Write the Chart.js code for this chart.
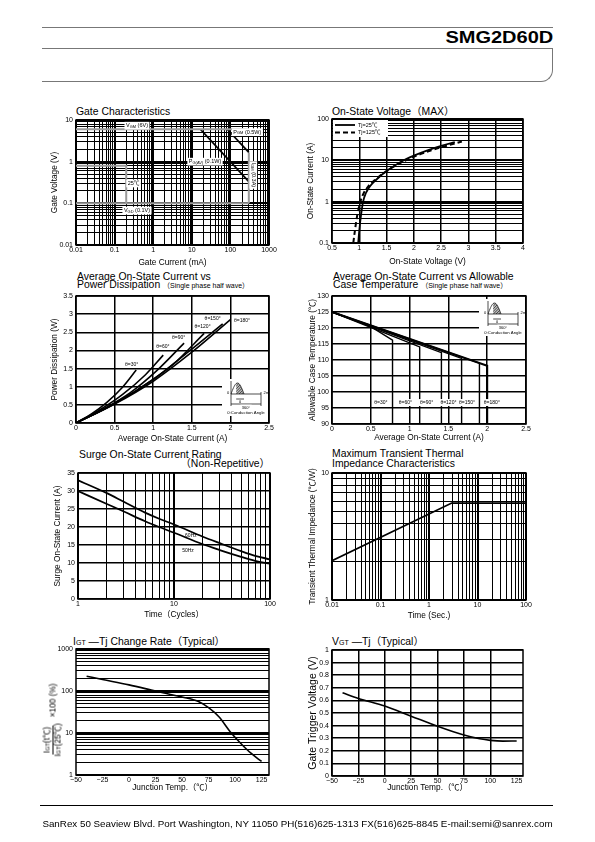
<!DOCTYPE html>
<html>
<head>
<meta charset="utf-8">
<title>SMG2D60D</title>
<script src="https://cdn.jsdelivr.net/npm/chart.js@4/dist/chart.umd.min.js"></script>
<style>
  body { margin: 0; background: #fff; }
  #page { position: relative; width: 595px; height: 842px; overflow: hidden;
          font-family: "Liberation Sans", Arial, "Noto Sans CJK JP", sans-serif; color: #000; }
  #page canvas { position: absolute; }
  .ln { position: absolute; height: 1px; background: #777; }
  .hd { position: absolute; font-size: 10.4px; line-height: 10px; white-space: nowrap; }
  .hd small { font-size: 7px; }
  .sb { font-size: 0.68em; }
</style>
</head>
<body>
<div id="page">
  <!-- header -->
  <div class="ln" style="left:42px;top:27px;width:511px"></div>
  <div style="position:absolute;right:42px;top:30px;font-size:16px;line-height:16px;font-weight:bold;transform:scaleX(1.25);transform-origin:right center;">SMG2D60D</div>
  <div class="ln" style="left:42px;top:48px;width:511px"></div>
  <div style="position:absolute;left:42px;top:48px;width:510px;height:33px;border-right:1px solid #777;border-bottom:1px solid #777;border-bottom-right-radius:12px;"></div>

  <!-- chart headings -->
  <div class="hd" style="left:76px;top:107px">Gate Characteristics</div>
  <div class="hd" style="left:332px;top:107px">On-State Voltage（MAX）</div>
  <div class="hd" style="left:77px;top:272px">Average On-State Current vs</div>
  <div class="hd" style="left:77px;top:280px">Power Dissipation <small>（Single phase half wave）</small></div>
  <div class="hd" style="left:333px;top:272px">Average On-State Current vs Allowable</div>
  <div class="hd" style="left:333px;top:280px">Case Temperature <small>（Single phase half wave）</small></div>
  <div class="hd" style="left:79px;top:450px">Surge On-State Current Rating</div>
  <div class="hd" style="right:325px;top:459px">（Non-Repetitive）</div>
  <div class="hd" style="left:332px;top:449px">Maximum Transient Thermal</div>
  <div class="hd" style="left:332px;top:459px">Impedance Characteristics</div>
  <div class="hd" style="left:73px;top:637px">I<span class="sb">GT</span> —Tj Change Rate（Typical）</div>
  <div class="hd" style="left:332px;top:637px">V<span class="sb">GT</span> —Tj（Typical）</div>

  <canvas id="cGate"></canvas>
  <canvas id="cOnState"></canvas>
  <canvas id="cPower"></canvas>
  <canvas id="cCase"></canvas>
  <canvas id="cSurge"></canvas>
  <canvas id="cTherm"></canvas>
  <canvas id="cIgt"></canvas>
  <canvas id="cVgt"></canvas>

  <!-- fraction title of the IGT chart -->
  <div style="position:absolute;left:53px;top:720px;transform:translate(-50%,-50%) rotate(-90deg);white-space:nowrap;font-size:8.3px;line-height:9px;display:flex;align-items:center;">
    <span style="display:inline-flex;flex-direction:column;align-items:center;">
      <span style="border-bottom:1px solid #000;padding:0 1px">I<span class="sb">GT</span>(t℃)</span>
      <span>I<span class="sb">GT</span>(25℃)</span>
    </span>
    <span style="margin-left:6px">×100 (%)</span>
  </div>

  <!-- footer -->
  <div style="position:absolute;left:40px;top:805px;width:513px;height:1px;background:#000"></div>
  <div style="position:absolute;left:0;width:595px;top:818px;text-align:center;font-size:9.8px;white-space:nowrap;">SanRex 50 Seaview Blvd. Port Washington, NY 11050 PH(516)625-1313 FX(516)625-8845 E-mail:semi@sanrex.com</div>
</div>

<script>
// ---------- data ----------
// Gate characteristics (gate current mA, gate voltage V)
const gateXTicks = [0.01, 0.1, 1, 10, 100, 1000];
const gateXLabels = ['0.01', '0.1', '1', '10', '100', '1000'];
const gateYTicks = [0.01, 0.1, 1, 10];
const gateYLabels = ['0.01', '0.1', '1', '10'];
const vgmI = [0.01, 300],      vgmV = [6, 6];
const vgdI = [0.01, 300],      vgdV = [0.1, 0.1];
const igmI = [300, 300],       igmV = [1.67, 0.1];
const vgtBoxI = [0.01, 0.2, 0.2], vgtBoxV = [0.8, 0.8, 0.1];
const pgmI = [83, 300],        pgmV = [6, 1.67];
const pgavI = [16.7, 300],     pgavV = [6, 0.333];

// On-state voltage (V) vs current (A)
const onXTicks = [0.5, 1, 1.5, 2, 2.5, 3, 3.5, 4];
const onXLabels = ['0.5', '1', '1.5', '2', '2.5', '3', '3.5', '4'];
const onYTicks = [0.1, 1, 10, 100];
const onYLabels = ['0.1', '1', '10', '100'];
const on25V  = [0.98, 1.0, 1.03, 1.07, 1.12, 1.2, 1.3, 1.5, 1.75, 2.0, 2.25, 2.5, 2.75];
const on25I  = [0.1, 0.2, 0.45, 1.0, 1.6, 2.4, 3.3, 5.5, 9, 13, 17.5, 22.5, 27.5];
const on125V = [0.89, 0.92, 0.96, 1.02, 1.08, 1.17, 1.28, 1.5, 1.78, 2.05, 2.32, 2.6, 2.88];
const on125I = [0.1, 0.2, 0.45, 1.0, 1.6, 2.4, 3.3, 5.5, 9, 13, 17.5, 22.5, 28.5];

// Power dissipation (A, W)
const pwXTicks = [0, 0.5, 1, 1.5, 2, 2.5];
const pwXLabels = ['0', '0.5', '1', '1.5', '2', '2.5'];
const pwYTicks = [0, 0.5, 1, 1.5, 2, 2.5, 3, 3.5];
const pwYLabels = ['0', '0.5', '1', '1.5', '2', '2.5', '3', '3.5'];
const pd30I  = [0, 0.2, 0.4, 0.6, 0.78],  pd30P  = [0, 0.25, 0.57, 0.98, 1.46];
const pd60I  = [0, 0.3, 0.6, 0.9, 1.13],  pd60P  = [0, 0.35, 0.78, 1.33, 1.87];
const pd90I  = [0, 0.35, 0.7, 1.05, 1.4], pd90P  = [0, 0.38, 0.83, 1.45, 2.2];
const pd120I = [0, 0.4, 0.8, 1.25, 1.66], pd120P = [0, 0.42, 0.92, 1.6, 2.47];
const pd150I = [0, 0.5, 1.0, 1.45, 1.9],  pd150P = [0, 0.53, 1.2, 1.95, 2.73];
const pd180I = [0, 0.5, 1.0, 1.5, 2.0],   pd180P = [0, 0.52, 1.15, 1.95, 2.85];

// Allowable case temperature (A, degC)
const caseYTicks = [90, 95, 100, 105, 110, 115, 120, 125, 130];
const caseYLabels = ['90', '95', '100', '105', '110', '115', '120', '125', '130'];
const case30I  = [0, 0.5, 0.78, 0.78], case30T  = [125, 120.4, 116.2, 90];
const case60I  = [0, 1.13, 1.13],      case60T  = [125, 114.1, 90];
const case90I  = [0, 1.41, 1.41],      case90T  = [125, 112.3, 90];
const case120I = [0, 1.67, 1.67],      case120T = [125, 110.5, 90];
const case150I = [0, 1.9, 1.9],        case150T = [125, 109.0, 90];
const case180I = [0, 2.0, 2.0],        case180T = [125, 108.2, 90];
const angleLabels = ['θ=30°', 'θ=60°', 'θ=90°', 'θ=120°', 'θ=150°', 'θ=180°'];

// Surge current (cycles, A)
const surgeXTicks = [1, 10, 100];
const surgeXLabels = ['1', '10', '100'];
const surgeYTicks = [0, 5, 10, 15, 20, 25, 30, 35];
const surgeYLabels = ['0', '5', '10', '15', '20', '25', '30', '35'];
const surgeCycles = [1, 2, 3, 5, 7, 10, 20, 30, 50, 70, 100];
const surge60 = [33.0, 29.4, 27.0, 24.0, 22.3, 20.7, 17.3, 15.5, 13.3, 12.0, 11.0];
const surge50 = [30.0, 26.4, 24.3, 21.6, 20.0, 18.4, 15.2, 13.6, 11.7, 10.6, 9.8];

// Transient thermal impedance (s, degC/W)
const thXTicks = [0.01, 0.1, 1, 10, 100];
const thXLabels = ['0.01', '0.1', '1', '10', '100'];
const thYTicks = [1, 10];
const thYLabels = ['1', '10'];
const thTime = [0.01, 2.94, 100];
const thZ = [2.04, 5.8, 5.8];

// IGT change rate (degC, %)
const tjTicks = [-50, -25, 0, 25, 50, 75, 100, 125];
const tjLabels = ['−50', '−25', '0', '25', '50', '75', '100', '125'];
const igtYTicks = [1, 10, 100, 1000];
const igtYLabels = ['1', '10', '100', '1000'];
const igtTj = [-40, -25, 0, 25, 50, 65, 75, 85, 95, 105, 115, 125];
const igtRate = [225, 188, 140, 100, 72, 57, 40, 24, 11, 5.8, 3.3, 2.1];

// VGT vs Tj (degC, V)
const vgtYTicks = [0, 0.1, 0.2, 0.3, 0.4, 0.5, 0.6, 0.7, 0.8, 0.9, 1];
const vgtYLabels = ['0', '0.1', '0.2', '0.3', '0.4', '0.5', '0.6', '0.7', '0.8', '0.9', '1'];
const vgtTj = [-40, -25, 0, 25, 50, 75, 90, 100, 112, 125];
const vgtVolt = [0.66, 0.615, 0.555, 0.475, 0.395, 0.325, 0.295, 0.283, 0.277, 0.278];

// ---------- helpers ----------
const FONT = '"Liberation Sans", Arial, "Noto Sans CJK JP", sans-serif';
const BOX_L = 60, BOX_T = 8, BOX_R = 16, BOX_B = 36;

Chart.defaults.font.family = FONT;
Chart.defaults.color = '#000';
Chart.defaults.animation = false;
Chart.defaults.plugins.legend.display = false;
Chart.defaults.plugins.tooltip.enabled = false;
Chart.defaults.elements.point.radius = 0;

function pts(xs, ys) { return xs.map((x, i) => ({x: x, y: ys[i]})); }
function logGrid(decades) {
  const out = [];
  for (let i = 0; i < decades.length - 1; i++)
    for (let d = 1; d <= 9; d++) out.push(+(decades[i] * d).toPrecision(6));
  out.push(decades[decades.length - 1]);
  return out;
}
function near(a, b) { return Math.abs(a - b) <= 1e-6 * Math.max(1e-9, Math.abs(b)); }

function setupCanvas(id, area) {
  const c = document.getElementById(id);
  const w = area[2] - area[0] + BOX_L + BOX_R;
  const h = area[3] - area[1] + BOX_T + BOX_B;
  c.width = w; c.height = h;
  c.style.left = (area[0] - BOX_L) + 'px';
  c.style.top = (area[1] - BOX_T) + 'px';
  c.style.width = w + 'px';
  c.style.height = h + 'px';
  return c;
}

// titleAt: centre of the axis title in page pixels (x for y axes, y for x axes)
function buildScale(axis, s, area) {
  const isX = axis === 'x';
  const size = s.titleSize || 8.3, lh = size * 1.2;
  const pad = isX ? {top: 0, bottom: area[3] + BOX_B - (s.titleAt + 2) - lh / 2}
                  : {top: s.titleAt - (area[0] - BOX_L) - lh / 2, bottom: 0};
  return {
    type: s.type, min: s.min, max: s.max, position: isX ? 'bottom' : 'left',
    afterBuildTicks: sc => { sc.ticks = s.grid.map(v => ({value: v})); },
    afterFit: sc => {
      if (isX) { sc.height = BOX_B; sc.paddingLeft = 0; sc.paddingRight = 0; }
      else { sc.width = BOX_L; sc.paddingTop = 0; sc.paddingBottom = 0; }
    },
    ticks: {
      autoSkip: false, maxRotation: 0, minRotation: 0, padding: isX ? 1 : 3,
      font: {size: 7}, color: '#000',
      callback: v => { const i = s.labelVals.findIndex(t => near(v, t)); return i < 0 ? '' : s.labelText[i]; }
    },
    grid: {
      display: s.showGrid !== false, drawTicks: false,
      color: c => (c.tick && (s.noGrid || []).some(t => near(c.tick.value, t))) ? 'rgba(0,0,0,0)' : '#000',
      lineWidth: c => {
        if (!c.tick) return 1;
        if (s.major) return s.major.some(t => near(c.tick.value, t)) ? 2 : 1;
        return 1.5;
      }
    },
    border: {display: false},
    title: s.title ? {display: true, text: s.title, font: {size: size}, color: '#000', padding: pad} : {display: false}
  };
}

const framePlugin = {
  id: 'frame',
  beforeDatasetsDraw(chart) {
    const {ctx, chartArea: a} = chart;
    ctx.save();
    ctx.strokeStyle = '#000'; ctx.lineWidth = 1.5;
    ctx.strokeRect(a.left, a.top, a.right - a.left, a.bottom - a.top);
    ctx.restore();
  }
};
Chart.register(framePlugin);

// text with simple _{sub} markup
function drawRich(ctx, text, x, y, size, rot, box) {
  const parts = []; const re = /_\{([^}]*)\}/g; let last = 0, m;
  while ((m = re.exec(text))) {
    if (m.index > last) parts.push({t: text.slice(last, m.index)});
    parts.push({t: m[1], sub: true}); last = re.lastIndex;
  }
  if (last < text.length) parts.push({t: text.slice(last)});
  ctx.save(); ctx.translate(x, y); ctx.rotate(rot || 0);
  let w = 0;
  parts.forEach(p => { ctx.font = (p.sub ? size * 0.72 : size) + 'px ' + FONT; p.w = ctx.measureText(p.t).width; w += p.w; });
  if (box) { ctx.fillStyle = '#fff'; ctx.fillRect(-w / 2 - 1.5, -size * 0.7, w + 3, size * 1.4); }
  ctx.fillStyle = '#000'; ctx.textBaseline = 'middle'; ctx.textAlign = 'left';
  let cx = -w / 2;
  parts.forEach(p => { ctx.font = (p.sub ? size * 0.72 : size) + 'px ' + FONT; ctx.fillText(p.t, cx, p.sub ? size * 0.22 : 0); cx += p.w; });
  ctx.restore();
}

function notes(items) {
  return {
    id: 'notes',
    afterDatasetsDraw(chart) {
      const xs = chart.scales.x, ys = chart.scales.y;
      items.forEach(n => drawRich(chart.ctx, n.text, xs.getPixelForValue(n.x), ys.getPixelForValue(n.y), n.size || 5.5, n.rot, n.box));
    }
  };
}

// small waveform sketch used in the two current charts
function drawInset(ctx, x, y) {
  ctx.save();
  ctx.fillStyle = '#fff'; ctx.fillRect(x, y, 46, 37);
  ctx.strokeStyle = '#000'; ctx.lineWidth = 0.7;
  const bx = x + 9, base = y + 15, half = 13, amp = 11;
  const hump = [];
  for (let k = 0; k <= 20; k++) { const a = Math.PI * k / 20; hump.push([bx + half * k / 20, base - amp * Math.sin(a)]); }
  ctx.save();
  ctx.beginPath(); ctx.moveTo(bx + half * 0.4, base);
  hump.slice(8).forEach(p => ctx.lineTo(p[0], p[1]));
  ctx.closePath(); ctx.clip();
  ctx.beginPath();
  for (let k = -16; k < 20; k += 1.6) { ctx.moveTo(bx + k, base); ctx.lineTo(bx + k + 12, base - 12); }
  ctx.stroke(); ctx.restore();
  ctx.beginPath(); hump.forEach((p, i) => i ? ctx.lineTo(p[0], p[1]) : ctx.moveTo(p[0], p[1])); ctx.stroke();
  ctx.beginPath();
  ctx.moveTo(bx, base - 13); ctx.lineTo(bx, base + 12);
  ctx.moveTo(bx, base); ctx.lineTo(bx + 30, base);
  ctx.moveTo(bx + 30, base - 2); ctx.lineTo(bx + 30, base + 12);
  ctx.moveTo(bx + half * 0.4, base + 5); ctx.lineTo(bx + half, base + 5);
  ctx.moveTo(bx, base + 10); ctx.lineTo(bx + 30, base + 10);
  ctx.stroke();
  drawRich(ctx, '0', bx - 3, base - 1, 4);
  drawRich(ctx, '2π', bx + 35, base - 1, 4);
  drawRich(ctx, 'θ', bx + half * 0.7, base + 7.5, 4);
  drawRich(ctx, '360°', bx + 15, base + 13.5, 4, 0, true);
  drawRich(ctx, 'θ:Conduction Angle', x + 24, y + 33.5, 4.3);
  ctx.restore();
}

function makeChart(id, area, xs, ys, datasets, plugins) {
  return new Chart(setupCanvas(id, area), {
    type: 'scatter',
    data: {datasets: datasets},
    options: {
      responsive: false, devicePixelRatio: 1,
      layout: {padding: {left: 0, top: BOX_T, right: BOX_R, bottom: 0}},
      scales: {x: buildScale('x', xs, area), y: buildScale('y', ys, area)}
    },
    plugins: plugins || []
  });
}

function line(data, opt) {
  return Object.assign({data: data, showLine: true, borderColor: '#000', borderWidth: 1.6, pointRadius: 0, fill: false}, opt || {});
}
const GRAY = '#9a9a9a';

// ---------- 1. Gate characteristics ----------
const areaGate = [76, 120, 269, 245];
makeChart('cGate', areaGate,
  {type: 'logarithmic', min: 0.01, max: 1000, grid: logGrid(gateXTicks), major: gateXTicks,
   labelVals: gateXTicks, labelText: gateXLabels, title: 'Gate Current (mA)', titleAt: 261},
  {type: 'logarithmic', min: 0.01, max: 10, grid: logGrid(gateYTicks), major: gateYTicks,
   labelVals: gateYTicks, labelText: gateYLabels, title: 'Gate Voltage (V)', titleAt: 55},
  [
    line(pts(vgmI, vgmV), {label: 'VGM', borderColor: GRAY, borderWidth: 2}),
    line(pts(vgdI, vgdV), {label: 'VGD', borderColor: GRAY, borderWidth: 2}),
    line(pts(igmI, igmV), {label: 'IGM', borderColor: GRAY, borderWidth: 2}),
    line(pts(vgtBoxI, vgtBoxV), {label: 'VGT/IGT 25°C', borderColor: GRAY, borderWidth: 2}),
    line(pts(pgmI, pgmV), {label: 'PGM', borderWidth: 1.8}),
    line(pts(pgavI, pgavV), {label: 'PG(AV)', borderWidth: 1.8})
  ],
  [notes([
    {x: 0.38, y: 7.3, text: 'V_{GM} (6V)', box: true},
    {x: 275, y: 5.1, text: 'P_{GM} (0.5W)', box: true},
    {x: 22, y: 1.0, text: 'P_{G(AV)} (0.1W)', box: true},
    {x: 391, y: 0.48, text: 'I_{GM} (0.3A)', box: true, rot: Math.PI / 2},
    {x: 0.31, y: 0.3, text: '25℃', box: true},
    {x: 0.38, y: 0.067, text: 'V_{GD} (0.1V)', box: true}
  ])]);

// ---------- 2. On-state voltage ----------
const onLegend = {
  id: 'onLegend',
  afterDatasetsDraw(chart) {
    const {ctx, chartArea: a} = chart;
    ctx.save();
    ctx.fillStyle = '#fff'; ctx.fillRect(a.left + 1, a.top + 1, 55, 17);
    chart.data.datasets.forEach((ds, i) => {
      const yy = a.top + 6 + i * 7.5;
      ctx.strokeStyle = '#000'; ctx.lineWidth = ds.borderWidth;
      ctx.setLineDash(ds.borderDash || []);
      ctx.beginPath(); ctx.moveTo(a.left + 3, yy); ctx.lineTo(a.left + 23, yy); ctx.stroke();
      ctx.setLineDash([]);
      ctx.font = '5.5px ' + FONT; ctx.fillStyle = '#000'; ctx.textBaseline = 'middle';
      ctx.fillText(ds.label, a.left + 26, yy);
    });
    ctx.restore();
  }
};
const areaOn = [332, 119, 523, 243];
makeChart('cOnState', areaOn,
  {type: 'linear', min: 0.5, max: 4, grid: onXTicks, labelVals: onXTicks, labelText: onXLabels,
   title: 'On-State Voltage (V)', titleAt: 260},
  {type: 'logarithmic', min: 0.1, max: 100, grid: logGrid(onYTicks), major: onYTicks,
   labelVals: onYTicks, labelText: onYLabels, title: 'On-State Current (A)', titleAt: 311},
  [
    line(pts(on25V, on25I), {label: 'Tj=25℃', borderWidth: 1.8, cubicInterpolationMode: 'monotone'}),
    line(pts(on125V, on125I), {label: 'Tj=125℃', borderWidth: 2, borderDash: [5, 3], cubicInterpolationMode: 'monotone'})
  ],
  [onLegend]);

// ---------- 3. Power dissipation ----------
const insetPower = {id: 'insetPower', afterDatasetsDraw(chart) { const a = chart.chartArea; drawInset(chart.ctx, a.right - 47, a.bottom - 44); }};
const areaPower = [76, 296, 269, 423];
makeChart('cPower', areaPower,
  {type: 'linear', min: 0, max: 2.5, grid: pwXTicks, labelVals: pwXTicks, labelText: pwXLabels,
   title: 'Average On-State Current (A)', titleAt: 437},
  {type: 'linear', min: 0, max: 3.5, grid: pwYTicks, labelVals: pwYTicks, labelText: pwYLabels,
   title: 'Power Dissipation (W)', titleAt: 55},
  [
    line(pts(pd30I, pd30P), {label: angleLabels[0], cubicInterpolationMode: 'monotone'}),
    line(pts(pd60I, pd60P), {label: angleLabels[1], cubicInterpolationMode: 'monotone'}),
    line(pts(pd90I, pd90P), {label: angleLabels[2], cubicInterpolationMode: 'monotone'}),
    line(pts(pd120I, pd120P), {label: angleLabels[3], cubicInterpolationMode: 'monotone'}),
    line(pts(pd150I, pd150P), {label: angleLabels[4], cubicInterpolationMode: 'monotone'}),
    line(pts(pd180I, pd180P), {label: angleLabels[5], cubicInterpolationMode: 'monotone'})
  ],
  [notes([
    {x: 0.72, y: 1.62, text: angleLabels[0], size: 5},
    {x: 1.125, y: 2.1, text: angleLabels[1], size: 5},
    {x: 1.33, y: 2.35, text: angleLabels[2], size: 5},
    {x: 1.64, y: 2.65, text: angleLabels[3], size: 5},
    {x: 1.77, y: 2.87, text: angleLabels[4], size: 5},
    {x: 2.15, y: 2.81, text: angleLabels[5], size: 5}
  ]), insetPower]);

// ---------- 4. Allowable case temperature ----------
const insetCase = {id: 'insetCase', afterDatasetsDraw(chart) { const a = chart.chartArea; drawInset(chart.ctx, a.right - 47, a.top + 3); }};
const areaCase = [332, 296, 526, 424];
makeChart('cCase', areaCase,
  {type: 'linear', min: 0, max: 2.5, grid: pwXTicks, labelVals: pwXTicks, labelText: pwXLabels,
   title: 'Average On-State Current (A)', titleAt: 436},
  {type: 'linear', min: 90, max: 130, grid: caseYTicks, labelVals: caseYTicks, labelText: caseYLabels,
   title: 'Allowable Case Temperature (℃)', titleAt: 313},
  [
    line(pts(case30I, case30T), {label: angleLabels[0], borderWidth: 1.4}),
    line(pts(case60I, case60T), {label: angleLabels[1], borderWidth: 1.4}),
    line(pts(case90I, case90T), {label: angleLabels[2], borderWidth: 1.4}),
    line(pts(case120I, case120T), {label: angleLabels[3], borderWidth: 1.4}),
    line(pts(case150I, case150T), {label: angleLabels[4], borderWidth: 1.4}),
    line(pts(case180I, case180T), {label: angleLabels[5], borderWidth: 2})
  ],
  [notes([
    {x: 0.63, y: 96.7, text: angleLabels[0], size: 5, box: true},
    {x: 0.945, y: 96.7, text: angleLabels[1], size: 5, box: true},
    {x: 1.22, y: 96.7, text: angleLabels[2], size: 5, box: true},
    {x: 1.5, y: 96.7, text: angleLabels[3], size: 5, box: true},
    {x: 1.74, y: 96.7, text: angleLabels[4], size: 5, box: true},
    {x: 2.06, y: 96.7, text: angleLabels[5], size: 5, box: true}
  ]), insetCase]);

// ---------- 5. Surge current ----------
const areaSurge = [78, 473, 270, 599];
makeChart('cSurge', areaSurge,
  {type: 'logarithmic', min: 1, max: 100, grid: logGrid(surgeXTicks), major: surgeXTicks,
   labelVals: surgeXTicks, labelText: surgeXLabels, title: 'Time（Cycles）', titleAt: 613},
  {type: 'linear', min: 0, max: 35, grid: surgeYTicks, labelVals: surgeYTicks, labelText: surgeYLabels,
   title: 'Surge On-State Current (A)', titleAt: 58},
  [
    line(pts(surgeCycles, surge60), {label: '60Hz', borderWidth: 1.8, cubicInterpolationMode: 'monotone'}),
    line(pts(surgeCycles, surge50), {label: '50Hz', borderWidth: 1.8, cubicInterpolationMode: 'monotone'})
  ],
  [notes([
    {x: 15, y: 17.6, text: '60Hz', size: 5},
    {x: 14, y: 13.3, text: '50Hz', size: 5}
  ])]);

// ---------- 6. Transient thermal impedance ----------
const areaTherm = [332, 473, 526, 600];
makeChart('cTherm', areaTherm,
  {type: 'logarithmic', min: 0.01, max: 100, grid: logGrid(thXTicks), major: thXTicks,
   labelVals: thXTicks, labelText: thXLabels, title: 'Time (Sec.)', titleAt: 614},
  {type: 'logarithmic', min: 1, max: 10, grid: logGrid(thYTicks), major: thYTicks,
   labelVals: thYTicks, labelText: thYLabels, title: 'Transient Thermal Impedance (℃/W)', titleAt: 313},
  [line(pts(thTime, thZ), {label: 'Zth', borderWidth: 1.8})]);

// ---------- 7. IGT change rate ----------
const areaIgt = [76, 649, 269, 775];
makeChart('cIgt', areaIgt,
  {type: 'linear', min: -50, max: 132, grid: tjTicks, labelVals: tjTicks, labelText: tjLabels,
   showGrid: false, title: 'Junction Temp.（℃）', titleAt: 786},
  {type: 'logarithmic', min: 1, max: 1000, grid: logGrid(igtYTicks), major: igtYTicks,
   labelVals: igtYTicks, labelText: igtYLabels},
  [line(pts(igtTj, igtRate), {label: 'IGT rate', borderWidth: 1.6, cubicInterpolationMode: 'monotone'})]);

// ---------- 8. VGT vs Tj ----------
const areaVgt = [332, 650, 523, 776];
makeChart('cVgt', areaVgt,
  {type: 'linear', min: -50, max: 131, grid: tjTicks, labelVals: tjTicks, labelText: tjLabels,
   noGrid: [125], title: 'Junction Temp.（℃）', titleAt: 786},
  {type: 'linear', min: 0, max: 1, grid: vgtYTicks, labelVals: vgtYTicks, labelText: vgtYLabels,
   title: 'Gate Trigger Voltage (V)', titleAt: 313, titleSize: 10.5},
  [line(pts(vgtTj, vgtVolt), {label: 'VGT', borderWidth: 1.6, cubicInterpolationMode: 'monotone'})]);
</script>
</body>
</html>
